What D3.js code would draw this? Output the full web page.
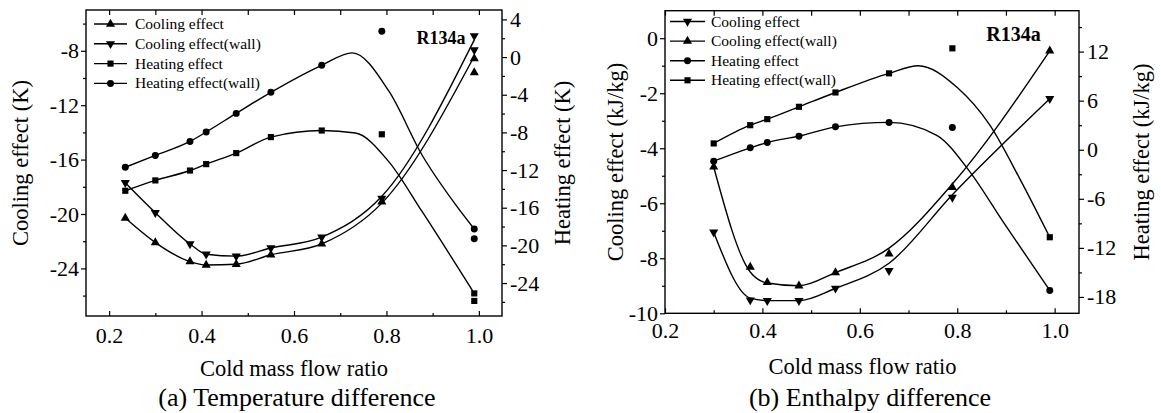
<!DOCTYPE html>
<html>
<head>
<meta charset="utf-8">
<script src="https://cdn.jsdelivr.net/npm/d3@7"></script>
<style>
  body { margin: 0; background: #fff; }
  svg text { font-family: "Liberation Serif", "Times New Roman", serif; fill: #000; }
</style>
</head>
<body>
<div id="chart"></div>
<script>
// ---- (a) Temperature difference ----
const ratioA = [0.235, 0.30, 0.375, 0.41, 0.475, 0.55, 0.66, 0.79, 0.99];
const coolingA = [-20.3, -22.1, -23.5, -23.75, -23.7, -23.0, -22.2, -19.1, -9.6];
const coolingWallA = [-17.7, -19.9, -22.2, -22.96, -23.1, -22.5, -21.7, -18.85, -6.9];
const heatingA = [-14.2, -13.1, -12.05, -11.37, -10.2, -8.5, -7.8, -8.2, -25.9];
const heatingWallA = [-11.7, -10.45, -8.96, -7.96, -5.98, -3.74, -0.87, 2.75, -19.3];
// second reading plotted at ratio 0.99
const repeatRatioA = [0.99];
const coolingRepeatA = [-8.57];
const coolingWallRepeatA = [-7.94];
const heatingRepeatA = [-25.1];
const heatingWallRepeatA = [-18.26];
// fitted curves
const coolingFitRatioA = [0.235, 0.30, 0.375, 0.41, 0.475, 0.55, 0.66, 0.79, 0.99];
const coolingFitA = [-20.3, -22.1, -23.5, -23.75, -23.7, -23.0, -22.2, -19.2, -8.4];
const coolingWallFitA = [-17.7, -19.9, -22.2, -22.96, -23.1, -22.5, -21.7, -18.7, -7.2];
const heatingFitRatioA = [0.235, 0.30, 0.375, 0.41, 0.475, 0.55, 0.66, 0.733, 0.805, 0.877, 0.99];
const heatingFitA = [-14.2, -13.1, -12.05, -11.37, -10.2, -8.5, -7.8, -8.07, -11.1, -16.4, -25.1];
const heatingWallFitRatioA = [0.235, 0.30, 0.375, 0.41, 0.475, 0.55, 0.66, 0.726, 0.805, 0.877, 0.95, 0.99];
const heatingWallFitA = [-11.7, -10.45, -8.96, -7.96, -5.98, -3.74, -0.87, 0.45, -3.6, -10.4, -15.7, -18.26];

// ---- (b) Enthalpy difference ----
const ratioB = [0.30, 0.375, 0.41, 0.475, 0.55, 0.66, 0.79, 0.99];
const coolingB = [-7.05, -9.52, -9.54, -9.54, -9.09, -8.45, -5.79, -2.2];
const coolingWallB = [-4.68, -8.32, -8.88, -9.0, -8.52, -7.84, -5.42, -0.46];
const heatingB = [-1.4, 0.23, 0.89, 1.66, 2.8, 3.34, 2.73, -17.2];
const heatingWallB = [0.77, 3.0, 3.74, 5.25, 7.0, 9.34, 12.4, -10.7];
const coolingFitRatioB = [0.30, 0.375, 0.41, 0.475, 0.55, 0.66, 0.79, 0.99];
const coolingFitB = [-7.05, -9.45, -9.54, -9.54, -9.09, -8.18, -5.69, -2.2];
const coolingWallFitB = [-4.68, -8.5, -8.9, -9.0, -8.52, -7.63, -5.3, -0.46];
const heatingFitRatioB = [0.30, 0.375, 0.41, 0.475, 0.55, 0.66, 0.757, 0.826, 0.894, 0.99];
const heatingFitB = [-1.4, 0.23, 0.89, 1.66, 2.8, 3.34, 1.8, -2.7, -8.8, -17.2];
const heatingWallFitRatioB = [0.30, 0.375, 0.41, 0.475, 0.55, 0.66, 0.72, 0.80, 0.867, 0.928, 0.99];
const heatingWallFitB = [0.77, 3.0, 3.74, 5.25, 7.0, 9.34, 10.27, 7.6, 3.0, -3.5, -10.7];

// ---- tick values ----
const xMajor = [0.2, 0.4, 0.6, 0.8, 1.0];
const xMinor = [0.3, 0.5, 0.7, 0.9];
const yLeftMajorA = [-24, -20, -16, -12, -8];
const yLeftMinorA = [-26, -22, -18, -14, -10, -6];
const yRightMajorA = [-24, -20, -16, -12, -8, -4, 0, 4];
const yRightMinorA = [-26, -22, -18, -14, -10, -6, -2, 2];
const yLeftMajorB = [-10, -8, -6, -4, -2, 0];
const yLeftMinorB = [-9, -7, -5, -3, -1];
const yRightMajorB = [-18, -12, -6, 0, 6, 12];
const yRightMinorB = [-15, -9, -3, 3, 9, 15];

const zip = (xs, ys) => xs.map((x, i) => [x, ys[i]]);

const panels = [
  {
    left: 86, top: 10, right: 502, bottom: 316,
    xDomain: [0.15, 1.05], yLeftDomain: [-27.5, -5], yRightDomain: [-27.5, 5],
    yLeftMajor: yLeftMajorA, yLeftMinor: yLeftMinorA,
    yRightMajor: yRightMajorA, yRightMinor: yRightMinorA,
    xPad: 11,
    yLeftTitle: 'Cooling effect (K)', yRightTitle: 'Heating effect (K)',
    leftTitleX: 27.5, rightTitleX: 570,
    xTitleX: 294, xTitleY: 376,
    caption: '(a) Temperature difference', captionX: 297,
    tag: { x: 441, y: 43.5, size: 18 },
    legend: { x0: 94, x1: 127, tx: 135, y: 24, dy: 19.8 },
    series: [
      { name: 'Cooling effect', sym: 'up', axis: 'left', pts: zip(ratioA, coolingA).concat(zip(repeatRatioA, coolingRepeatA)), fit: zip(coolingFitRatioA, coolingFitA) },
      { name: 'Cooling effect(wall)', sym: 'down', axis: 'left', pts: zip(ratioA, coolingWallA).concat(zip(repeatRatioA, coolingWallRepeatA)), fit: zip(coolingFitRatioA, coolingWallFitA) },
      { name: 'Heating effect', sym: 'square', axis: 'right', pts: zip(ratioA, heatingA).concat(zip(repeatRatioA, heatingRepeatA)), fit: zip(heatingFitRatioA, heatingFitA) },
      { name: 'Heating effect(wall)', sym: 'circle', axis: 'right', pts: zip(ratioA, heatingWallA).concat(zip(repeatRatioA, heatingWallRepeatA)), fit: zip(heatingWallFitRatioA, heatingWallFitA) },
    ],
  },
  {
    left: 665, top: 10.7, right: 1079, bottom: 313.3,
    xDomain: [0.2, 1.05], yLeftDomain: [-10, 1], yRightDomain: [-20, 17],
    yLeftMajor: yLeftMajorB, yLeftMinor: yLeftMinorB,
    yRightMajor: yRightMajorB, yRightMinor: yRightMinorB,
    xPad: 9,
    yLeftTitle: 'Cooling effect (kJ/kg)', yRightTitle: 'Heating effect (kJ/kg)',
    leftTitleX: 623, rightTitleX: 1149,
    xTitleX: 862.5, xTitleY: 373.5,
    caption: '(b) Enthalpy difference', captionX: 870,
    tag: { x: 1013.5, y: 40.5, size: 20 },
    legend: { x0: 670, x1: 705, tx: 711, y: 21.5, dy: 19.6 },
    series: [
      { name: 'Cooling effect', sym: 'down', axis: 'left', pts: zip(ratioB, coolingB), fit: zip(coolingFitRatioB, coolingFitB) },
      { name: 'Cooling effect(wall)', sym: 'up', axis: 'left', pts: zip(ratioB, coolingWallB), fit: zip(coolingFitRatioB, coolingWallFitB) },
      { name: 'Heating effect', sym: 'circle', axis: 'right', pts: zip(ratioB, heatingB), fit: zip(heatingFitRatioB, heatingFitB) },
      { name: 'Heating effect(wall)', sym: 'square', axis: 'right', pts: zip(ratioB, heatingWallB), fit: zip(heatingWallFitRatioB, heatingWallFitB) },
    ],
  },
];

const svg = d3.select('#chart').append('svg')
  .attr('width', 1161)
  .attr('height', 413)
  .attr('font-family', '"Liberation Serif", "Times New Roman", serif');

svg.append('rect').attr('width', 1161).attr('height', 413).attr('fill', '#fff');

function symbolPath(sym) {
  switch (sym) {
    case 'up':
    case 'down':
      return d3.symbol(d3.symbolTriangle, 36)();
    case 'square':
      return d3.symbol(d3.symbolSquare, 38)();
    default:
      return d3.symbol(d3.symbolCircle, 38)();
  }
}

function putMarker(g, sym, cx, cy) {
  g.append('path')
    .attr('d', symbolPath(sym))
    .attr('transform', `translate(${cx},${cy})${sym === 'down' ? ' rotate(180)' : ''}`)
    .attr('fill', '#000');
}

function styleAxis(sel, size) {
  sel.select('.domain').remove();
  sel.attr('font-family', '"Liberation Serif", "Times New Roman", serif').attr('font-size', size);
  sel.selectAll('line').attr('stroke', '#000').attr('stroke-width', 1.2);
  sel.selectAll('text').attr('fill', '#000');
}

function drawPanel(p) {
  const x = d3.scaleLinear().domain(p.xDomain).range([p.left, p.right]);
  const yL = d3.scaleLinear().domain(p.yLeftDomain).range([p.bottom, p.top]);
  const yR = d3.scaleLinear().domain(p.yRightDomain).range([p.bottom, p.top]);
  const g = svg.append('g');
  const num = (d) => String(d);
  const tickFont = 22;

  // bottom axis, ticks pointing inward
  g.append('g').attr('transform', `translate(0,${p.bottom})`)
    .call(d3.axisBottom(x).tickValues(xMajor).tickSizeInner(-5).tickSizeOuter(0)
      .tickPadding(p.xPad).tickFormat(d3.format('.1f')))
    .call((s) => styleAxis(s, tickFont));
  g.append('g').attr('transform', `translate(0,${p.bottom})`)
    .call(d3.axisBottom(x).tickValues(xMinor).tickSizeInner(-3).tickSizeOuter(0).tickFormat(''))
    .call((s) => styleAxis(s, tickFont));
  // top mirror ticks
  g.append('g').attr('transform', `translate(0,${p.top})`)
    .call(d3.axisTop(x).tickValues(xMajor.concat(xMinor)).tickSizeInner(-5).tickSizeOuter(0).tickFormat(''))
    .call((s) => styleAxis(s, tickFont));

  // left axis
  g.append('g').attr('transform', `translate(${p.left},0)`)
    .call(d3.axisLeft(yL).tickValues(p.yLeftMajor).tickSizeInner(5).tickSizeOuter(0)
      .tickPadding(2).tickFormat(num))
    .call((s) => styleAxis(s, tickFont));
  g.append('g').attr('transform', `translate(${p.left},0)`)
    .call(d3.axisLeft(yL).tickValues(p.yLeftMinor).tickSizeInner(3).tickSizeOuter(0).tickFormat(''))
    .call((s) => styleAxis(s, tickFont));

  // right axis
  g.append('g').attr('transform', `translate(${p.right},0)`)
    .call(d3.axisRight(yR).tickValues(p.yRightMajor).tickSizeInner(5).tickSizeOuter(0)
      .tickPadding(3).tickFormat(num))
    .call((s) => styleAxis(s, tickFont));
  g.append('g').attr('transform', `translate(${p.right},0)`)
    .call(d3.axisRight(yR).tickValues(p.yRightMinor).tickSizeInner(3).tickSizeOuter(0).tickFormat(''))
    .call((s) => styleAxis(s, tickFont));

  // frame
  g.append('rect')
    .attr('x', p.left).attr('y', p.top)
    .attr('width', p.right - p.left).attr('height', p.bottom - p.top)
    .attr('fill', 'none').attr('stroke', '#000').attr('stroke-width', 1.4);

  // curves and markers
  p.series.forEach((s) => {
    const y = s.axis === 'left' ? yL : yR;
    const line = d3.line()
      .x((d) => x(d[0]))
      .y((d) => y(d[1]))
      .curve(d3.curveMonotoneX);
    g.append('path')
      .attr('d', line(s.fit))
      .attr('fill', 'none')
      .attr('stroke', '#000')
      .attr('stroke-width', 1.4);
    s.pts.forEach((d) => putMarker(g, s.sym, x(d[0]), y(d[1])));
  });

  // legend
  p.series.forEach((s, i) => {
    const ly = p.legend.y + i * p.legend.dy;
    g.append('line')
      .attr('x1', p.legend.x0).attr('x2', p.legend.x1)
      .attr('y1', ly).attr('y2', ly)
      .attr('stroke', '#000').attr('stroke-width', 1.4);
    putMarker(g, s.sym, (p.legend.x0 + p.legend.x1) / 2, ly);
    g.append('text')
      .attr('x', p.legend.tx).attr('y', ly + 5)
      .attr('font-size', 15.5)
      .text(s.name);
  });

  g.append('text')
    .attr('x', p.tag.x).attr('y', p.tag.y)
    .attr('text-anchor', 'middle')
    .attr('font-weight', 'bold')
    .attr('font-size', p.tag.size)
    .text('R134a');

  // titles
  const midY = (p.top + p.bottom) / 2;
  g.append('text')
    .attr('transform', `translate(${p.leftTitleX},${midY}) rotate(-90)`)
    .attr('text-anchor', 'middle')
    .attr('font-size', 22.5)
    .text(p.yLeftTitle);
  g.append('text')
    .attr('transform', `translate(${p.rightTitleX},${midY}) rotate(-90)`)
    .attr('text-anchor', 'middle')
    .attr('font-size', 22.5)
    .text(p.yRightTitle);
  g.append('text')
    .attr('x', p.xTitleX).attr('y', p.xTitleY)
    .attr('text-anchor', 'middle')
    .attr('font-size', 22.5)
    .text('Cold mass flow ratio');
  g.append('text')
    .attr('x', p.captionX).attr('y', 406)
    .attr('text-anchor', 'middle')
    .attr('font-size', 26)
    .text(p.caption);
}

panels.forEach(drawPanel);
</script>
</body>
</html>
